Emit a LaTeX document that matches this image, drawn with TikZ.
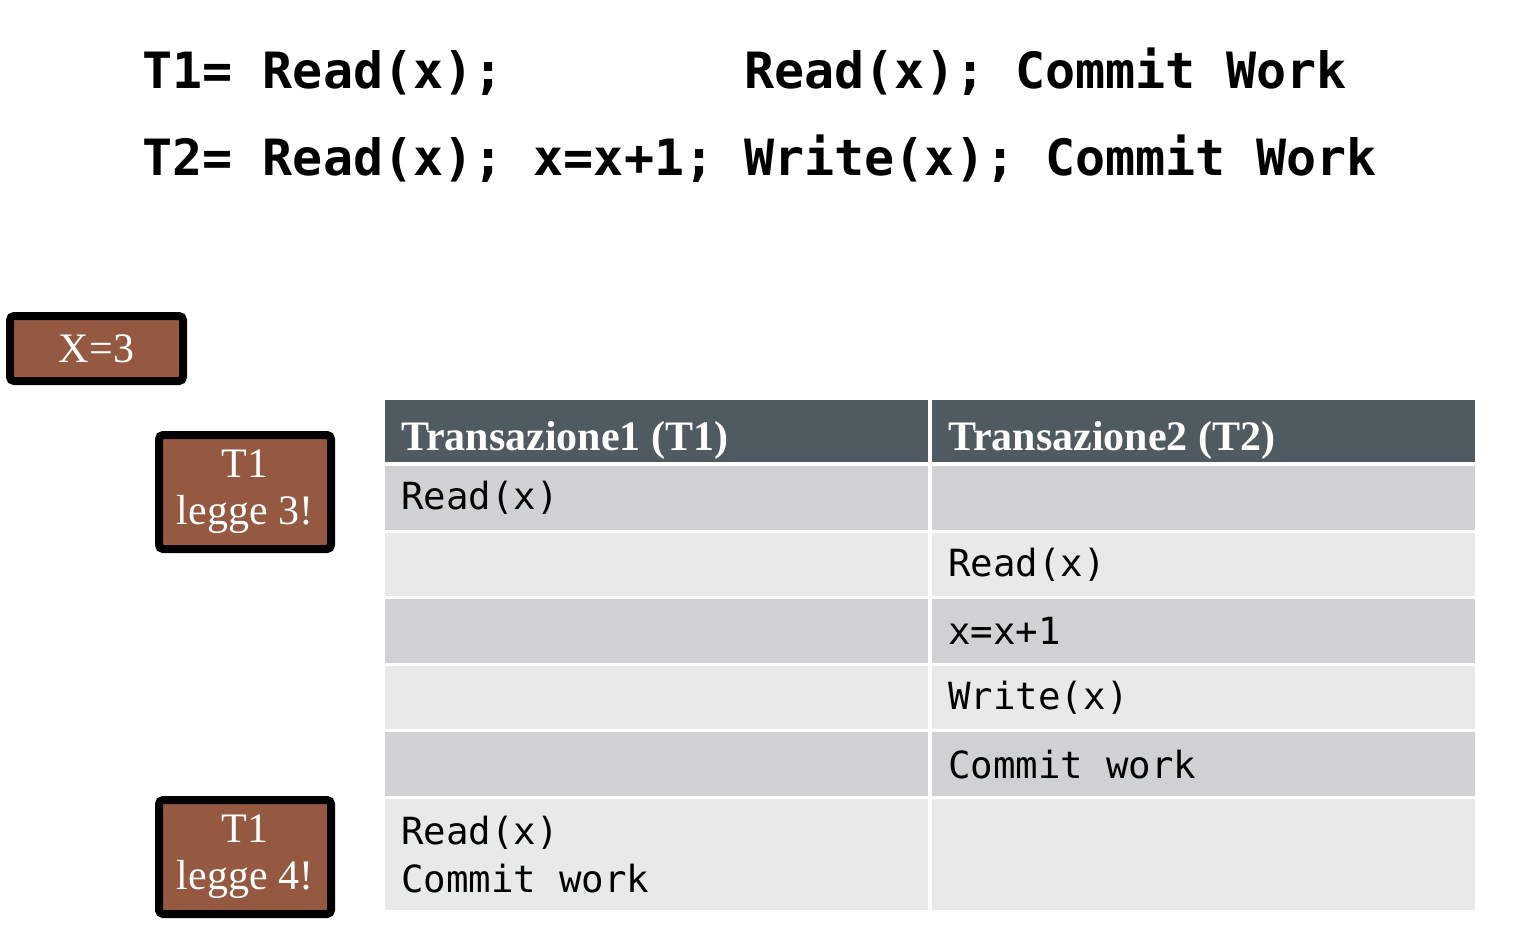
\documentclass[tikz,border=0pt]{standalone}
\usepackage{fontspec}
\setmainfont{Liberation Serif}
\setmonofont[WordSpace={1,0,0}]{DejaVu Sans Mono}
\definecolor{Brown}{RGB}{149, 88, 64}
\definecolor{Slate}{RGB}{80, 90, 97}
\definecolor{Gray20}{RGB}{208, 209, 211}
\definecolor{Gray10}{RGB}{232, 233, 233}

\begin{document}
\begin{tikzpicture}[
        x=0.5pt, y=-0.5pt,
        code/.style = {anchor=base west, inner sep=0pt, font=\ttfamily\bfseries\fontsize{25pt}{30pt}\selectfont},
        note/.style = {rectangle, draw=black, line width=4pt, rounded corners=2pt, fill=Brown, text=white,
                       align=center, inner sep=0pt, minimum width=86pt, font=\fontsize{21pt}{23.5pt}\selectfont},
        cell/.style = {rectangle, anchor=north west, inner xsep=8pt, inner ysep=0pt, text width=255.5pt,
                       minimum height=31.75pt, align=flush left, font=\ttfamily\fontsize{18.7pt}{24pt}\selectfont},
        head/.style = {cell, fill=Slate, minimum height=31pt, text=white, text height=20pt, text depth=1pt,
                       font=\bfseries\fontsize{21pt}{24pt}\selectfont},
        dark/.style = {cell, fill=Gray20},
        light/.style = {cell, fill=Gray10}
    ]
    \useasboundingbox (0,0) rectangle (1516,938);

    \node (T1) at (142,88)  [code] {T1= Read(x);~~~~~~~~Read(x); Commit Work};
    \node (T2) at (142,175) [code] {T2= Read(x); x=x+1; Write(x); Commit Work};

    \node (X)  at (96.5,348.5) [note, minimum width=86.5pt, minimum height=32.5pt] {X=3};
    \node (L3) at (245,492)    [note, minimum height=57pt] {T1\\legge 3!};
    \node (L4) at (245,857)    [note, minimum height=57pt] {T1\\legge 4!};

    \node (h1) at (385,400) [head] {Transazione1 (T1)};
    \node (h2) at (932,400) [head] {Transazione2 (T2)};

    \node (a1) at (385,466)   [dark]  {Read(x)};
    \node (b1) at (932,466)   [dark]  {};
    \node (a2) at (385,532.5) [light] {};
    \node (b2) at (932,532.5) [light] {Read(x)};
    \node (a3) at (385,599)   [dark]  {};
    \node (b3) at (932,599)   [dark]  {x=x+1};
    \node (a4) at (385,665.5) [light] {};
    \node (b4) at (932,665.5) [light] {Write(x)};
    \node (a5) at (385,732)   [dark]  {};
    \node (b5) at (932,732)   [dark]  {Commit work};
    \node (a6) at (385,798.5) [light, minimum height=55.75pt] {Read(x)\\Commit work};
    \node (b6) at (932,798.5) [light, minimum height=55.75pt] {};
\end{tikzpicture}
\end{document}
